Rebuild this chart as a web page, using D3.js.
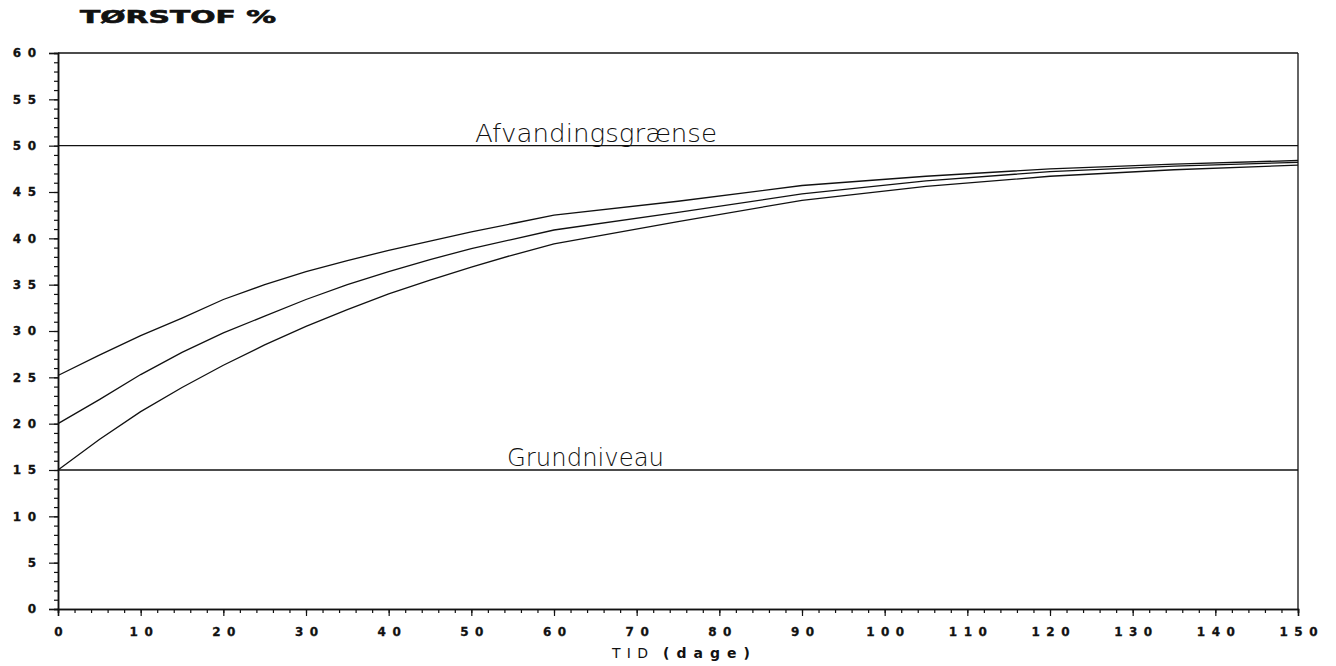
<!DOCTYPE html>
<html>
<head>
<meta charset="utf-8">
<script src="https://cdn.jsdelivr.net/npm/d3@7/dist/d3.min.js"></script>
<style>
  html, body { margin: 0; padding: 0; background: #fff; }
  svg { display: block; }
</style>
</head>
<body>
<svg id="chart" width="1336" height="666"></svg>
<script>
// ---- data ----
const days = [0, 5, 10, 15, 20, 25, 30, 35, 40, 45, 50, 55, 60, 75, 90, 105, 120, 135, 150];
const curveStart25 = [25.2, 27.4, 29.5, 31.4, 33.4, 35.0, 36.4, 37.6, 38.7, 39.7, 40.7, 41.6, 42.5, 44.0, 45.7, 46.7, 47.5, 48.0, 48.4];
const curveStart20 = [20.0, 22.6, 25.3, 27.7, 29.8, 31.6, 33.4, 35.0, 36.4, 37.7, 38.9, 39.9, 40.9, 42.8, 44.8, 46.2, 47.2, 47.8, 48.2];
const curveStart15 = [15.0, 18.3, 21.3, 23.9, 26.3, 28.5, 30.5, 32.3, 34.0, 35.5, 36.9, 38.2, 39.4, 41.8, 44.1, 45.6, 46.7, 47.4, 47.9];
const refLevels = [50, 15];
const refLabels = ["Afvandingsgrænse", "Grundniveau"];
const xTicks = [0, 10, 20, 30, 40, 50, 60, 70, 80, 90, 100, 110, 120, 130, 140, 150];
const yTicks = [0, 5, 10, 15, 20, 25, 30, 35, 40, 45, 50, 55, 60];
const titleText = "TØRSTOF %";
const xAxisTitleParts = ["TID", "(dage)"];

// ---- layout ----
const svg = d3.select("#chart");
const x = d3.scaleLinear().domain([0, 150]).range([58, 1298]);
const y = d3.scaleLinear().domain([0, 60]).range([609, 53]);
const ink = "#111";

// frame: top and right
svg.append("line").attr("x1", x(0)).attr("x2", x(150)).attr("y1", y(60)).attr("y2", y(60))
  .attr("stroke", ink).attr("stroke-width", 1.3);
svg.append("line").attr("x1", x(150)).attr("x2", x(150)).attr("y1", y(60)).attr("y2", y(0))
  .attr("stroke", ink).attr("stroke-width", 1.3);

// Y axis
const yMinor = d3.range(0, 61, 1);
const yAxisMinor = d3.axisLeft(y).tickValues(yMinor).tickSize(4).tickFormat("");
const gyMinor = svg.append("g").attr("transform", `translate(${x(0)},0)`).call(yAxisMinor);
const yAxis = d3.axisLeft(y).tickValues(yTicks).tickSize(9).tickPadding(13).tickFormat(d => String(d));
const gy = svg.append("g").attr("transform", `translate(${x(0)},0)`).call(yAxis);

// X axis
const xMinor = d3.range(0, 151, 2);
const xAxisMinor = d3.axisBottom(x).tickValues(xMinor).tickSize(4).tickFormat("");
const gxMinor = svg.append("g").attr("transform", `translate(0,${y(0)})`).call(xAxisMinor);
const xAxis = d3.axisBottom(x).tickValues(xTicks).tickSize(7).tickPadding(11).tickFormat(d => String(d));
const gx = svg.append("g").attr("transform", `translate(0,${y(0)})`).call(xAxis);

[gy, gyMinor, gx, gxMinor].forEach(g => {
  g.selectAll(".domain").attr("stroke", ink).attr("stroke-width", 1.5);
  g.selectAll(".tick line").attr("stroke", ink).attr("stroke-width", 1.2);
});
const ls = 6.5;
[gy, gx].forEach((g, i) => {
  g.selectAll(".tick text")
    .attr("font-family", "DejaVu Sans").attr("font-weight", "bold").attr("font-size", 12)
    .attr("fill", ink).attr("stroke", ink).attr("stroke-width", 0.3)
    .style("letter-spacing", ls + "px").attr("dx", i === 0 ? ls : ls / 2);
});

// reference lines
refLevels.forEach((v, i) => {
  svg.append("line").attr("x1", x(0)).attr("x2", x(150)).attr("y1", y(v)).attr("y2", y(v))
    .attr("stroke", ink).attr("stroke-width", 1.4);
});
const refLabelX = [475, 507];
const refLabelW = [242, 157];
refLabels.forEach((t, i) => {
  svg.append("text").attr("x", refLabelX[i]).attr("y", y(refLevels[i]) - 4)
    .attr("font-family", "DejaVu Sans").attr("font-weight", 200).attr("font-size", 25)
    .attr("textLength", refLabelW[i]).attr("lengthAdjust", "spacingAndGlyphs")
    .attr("fill", ink).text(t);
});

// curves
const line = d3.line().x((d, i) => x(days[i])).y(d => y(d)).curve(d3.curveLinear);
[curveStart25, curveStart20, curveStart15].forEach(s => {
  svg.append("path").datum(s).attr("d", line).attr("fill", "none")
    .attr("stroke", ink).attr("stroke-width", 1.3);
});

// titles
svg.append("text").attr("x", 80).attr("y", 23)
  .attr("font-family", "DejaVu Sans").attr("font-weight", 900).attr("font-size", 17)
  .attr("textLength", 196).attr("lengthAdjust", "spacingAndGlyphs")
  .attr("fill", ink).attr("stroke", ink).attr("stroke-width", 0.6).text(titleText);
const xt = svg.append("text").attr("y", 658)
  .attr("font-family", "DejaVu Sans").attr("font-size", 14).attr("fill", ink);
xt.append("tspan").attr("x", 612).attr("textLength", 36).attr("lengthAdjust", "spacing")
  .text(xAxisTitleParts[0]);
xt.append("tspan").attr("x", 663).attr("textLength", 87).attr("lengthAdjust", "spacing")
  .attr("font-weight", "bold").text(xAxisTitleParts[1]);
</script>
</body>
</html>
